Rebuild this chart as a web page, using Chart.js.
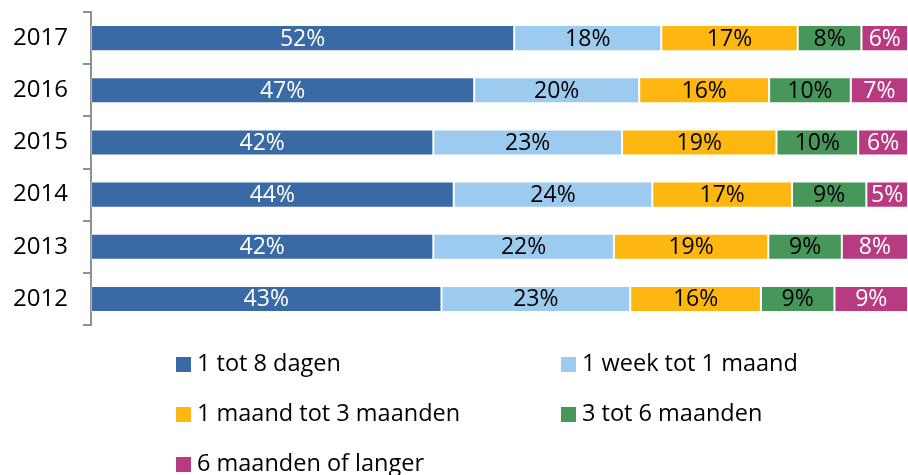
<!DOCTYPE html>
<html>
<head>
<meta charset="utf-8">
<script src="https://cdn.jsdelivr.net/npm/chart.js@4"></script>
<style>
  html, body { margin: 0; padding: 0; background: #ffffff; }
  #wrap { width: 908px; height: 475px; }
</style>
</head>
<body>
<div id="wrap"><canvas id="duurChart"></canvas></div>
<script>
const years = ["2017", "2016", "2015", "2014", "2013", "2012"];

// shares per year (labels show rounded values)
const dagen = [51.8, 46.9, 41.9, 44.4, 41.9, 42.9];
const weekMaand = [18.0, 20.2, 23.1, 24.3, 22.1, 23.1];
const maanden1tot3 = [16.7, 15.9, 18.9, 17.1, 18.9, 16.0];
const maanden3tot6 = [7.8, 10.0, 10.0, 9.1, 9.0, 9.0];
const langer = [5.7, 7.0, 6.1, 5.1, 8.1, 9.0];

const seriesNames = [
  "1 tot 8 dagen",
  "1 week tot 1 maand",
  "1 maand tot 3 maanden",
  "3 tot 6 maanden",
  "6 maanden of langer",
];
const colors = ["#3A6AA6", "#9DCBEF", "#FDB710", "#47975B", "#B83A80"];
const labelColors = ["#ffffff", "#000000", "#000000", "#000000", "#ffffff"];

const FONT = "'Open Sans', sans-serif";

// draws the % label in the middle of each segment
const segmentLabels = {
  id: "segmentLabels",
  afterDatasetsDraw(chart) {
    const ctx = chart.ctx;
    ctx.save();
    ctx.font = "23px " + FONT;
    ctx.textAlign = "center";
    ctx.textBaseline = "middle";
    chart.data.datasets.forEach((ds, i) => {
      const meta = chart.getDatasetMeta(i);
      meta.data.forEach((bar, j) => {
        const p = bar.getProps(["x", "y", "base"], true);
        ctx.fillStyle = labelColors[i];
        ctx.fillText(Math.round(ds.data[j]) + "%", (p.x + p.base) / 2, p.y + 1);
      });
    });
    ctx.restore();
  },
};

// two column legend under the chart
const legendGrid = {
  id: "legendGrid",
  afterDraw(chart) {
    const ctx = chart.ctx;
    const colX = [176, 561];
    const rowY = [364, 414, 464];
    ctx.save();
    ctx.font = "23.5px " + FONT;
    ctx.textBaseline = "middle";
    ctx.textAlign = "left";
    seriesNames.forEach((name, i) => {
      const x = colX[i % 2];
      const y = rowY[Math.floor(i / 2)];
      ctx.fillStyle = colors[i];
      ctx.fillRect(x, y - 7, 15, 15);
      ctx.fillStyle = "#000000";
      ctx.fillText(name, x + 21, y);
    });
    ctx.restore();
  },
};

const sets = [dagen, weekMaand, maanden1tot3, maanden3tot6, langer];

new Chart(document.getElementById("duurChart"), {
  type: "bar",
  data: {
    labels: years,
    datasets: sets.map((values, i) => ({
      label: seriesNames[i],
      data: values,
      backgroundColor: colors[i],
      borderColor: "rgba(255,255,255,0.35)",
      borderWidth: 1,
      borderSkipped: false,
      categoryPercentage: 1,
      barPercentage: 0.5,
    })),
  },
  options: {
    indexAxis: "y",
    responsive: true,
    maintainAspectRatio: false,
    animation: false,
    layout: {
      padding: { top: 12, bottom: 150, left: 0, right: 0 },
    },
    plugins: {
      legend: { display: false },
      tooltip: { enabled: false },
    },
    scales: {
      x: {
        stacked: true,
        min: 0,
        max: 100,
        display: false,
      },
      y: {
        stacked: true,
        afterFit: (scale) => {
          scale.width = 91;
          scale.paddingTop = 0;
          scale.paddingBottom = 0;
        },
        border: { display: true, color: "#8f8f8f", width: 2 },
        grid: {
          drawOnChartArea: false,
          drawTicks: true,
          tickLength: 8,
          color: "#8f8f8f",
          lineWidth: 2,
        },
        ticks: {
          color: "#000000",
          padding: 15,
          font: { family: FONT, size: 24 },
        },
      },
    },
  },
  plugins: [segmentLabels, legendGrid],
});
</script>
</body>
</html>
